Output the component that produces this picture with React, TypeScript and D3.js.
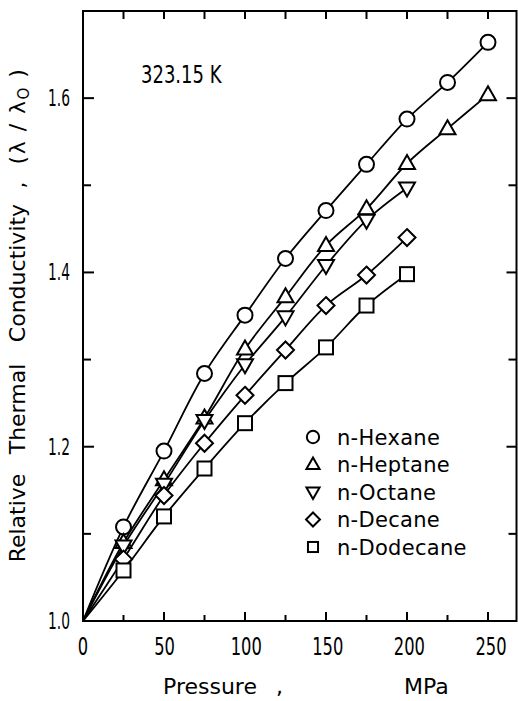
import React from "react";
import * as d3 from "d3";

const pressures = [25, 50, 75, 100, 125, 150, 175, 200, 225, 250];
const hexane = [1.108, 1.195, 1.284, 1.351, 1.416, 1.471, 1.524, 1.576, 1.618, 1.664];
const heptane = [1.09, 1.162, 1.233, 1.312, 1.372, 1.431, 1.473, 1.525, 1.565, 1.604];
const octane = [1.086, 1.157, 1.23, 1.294, 1.349, 1.408, 1.46, 1.497];
const decane = [1.071, 1.144, 1.204, 1.259, 1.311, 1.362, 1.397, 1.44];
const dodecane = [1.058, 1.12, 1.175, 1.227, 1.273, 1.314, 1.362, 1.398];

const seriesNames = ["n-Hexane", "n-Heptane", "n-Octane", "n-Decane", "n-Dodecane"];
const seriesValues = [hexane, heptane, octane, decane, dodecane];
const seriesMarkers = ["circle", "up", "down", "diamond", "square"];

const xMajorTicks = [0, 50, 100, 150, 200, 250];
const xMinorTicks = [25, 75, 125, 175, 225];
const yMajorTicks = [1.0, 1.2, 1.4, 1.6];
const yMinorTicks = [1.1, 1.3, 1.5];
const yTickLabels = ["1.0", "1.2", "1.4", "1.6"];

const FONT = "'DejaVu Sans', sans-serif";

function Marker({ type, x, y, s = 1 }: { type: string; x: number; y: number; s?: number }) {
  const common = { fill: "white", stroke: "black", strokeWidth: 2 };
  if (type === "circle") return <circle cx={x} cy={y} r={7.5 * s} {...common} />;
  if (type === "up")
    return (
      <polygon
        points={`${x},${y - 8.5 * s} ${x + 8 * s},${y + 5.5 * s} ${x - 8 * s},${y + 5.5 * s}`}
        {...common}
      />
    );
  if (type === "down")
    return (
      <polygon
        points={`${x},${y + 8.5 * s} ${x + 8 * s},${y - 5.5 * s} ${x - 8 * s},${y - 5.5 * s}`}
        {...common}
      />
    );
  if (type === "diamond")
    return (
      <polygon
        points={`${x},${y - 8.5 * s} ${x + 8.5 * s},${y} ${x},${y + 8.5 * s} ${x - 8.5 * s},${y}`}
        {...common}
      />
    );
  return <rect x={x - 7 * s} y={y - 7 * s} width={14 * s} height={14 * s} {...common} />;
}

export default function App() {
  const W = 518;
  const H = 701;
  const left = 83;
  const right = 516.5;
  const top = 11;
  const bottom = 621;

  const x = d3.scaleLinear().domain([0, 250]).range([left, 488]);
  const y = d3.scaleLinear().domain([1.0, 1.7]).range([bottom, top]);

  const line = d3
    .line<[number, number]>()
    .x((d) => x(d[0]))
    .y((d) => y(d[1]))
    .curve(d3.curveCatmullRom.alpha(0.5));

  const topTicks = [...xMajorTicks, ...xMinorTicks].filter((v) => v > 0);

  return (
    <div style={{ position: "absolute", left: 0, top: 0 }}>
      <svg width={W} height={H} style={{ display: "block", background: "white" }}>
        {/* frame */}
        <rect
          x={left}
          y={top}
          width={right - left}
          height={bottom - top}
          fill="none"
          stroke="black"
          strokeWidth={2}
        />
        {/* bottom ticks */}
        {xMajorTicks.map((v) => (
          <line key={"bM" + v} x1={x(v)} x2={x(v)} y1={bottom} y2={bottom - 9} stroke="black" strokeWidth={2} />
        ))}
        {xMinorTicks.map((v) => (
          <line key={"bm" + v} x1={x(v)} x2={x(v)} y1={bottom} y2={bottom - 6} stroke="black" strokeWidth={2} />
        ))}
        {/* top ticks */}
        {topTicks.map((v) => (
          <line key={"t" + v} x1={x(v)} x2={x(v)} y1={top} y2={top + 8} stroke="black" strokeWidth={2} />
        ))}
        {/* left / right ticks */}
        {yMajorTicks.map((v) => (
          <g key={"yM" + v}>
            <line x1={left} x2={left + 11} y1={y(v)} y2={y(v)} stroke="black" strokeWidth={2} />
            <line x1={right} x2={right - 10} y1={y(v)} y2={y(v)} stroke="black" strokeWidth={2} />
          </g>
        ))}
        {yMinorTicks.map((v) => (
          <g key={"ym" + v}>
            <line x1={left} x2={left + 8} y1={y(v)} y2={y(v)} stroke="black" strokeWidth={2} />
            <line x1={right} x2={right - 8} y1={y(v)} y2={y(v)} stroke="black" strokeWidth={2} />
          </g>
        ))}
        {/* x tick labels */}
        {xMajorTicks.map((v, i) => (
          <text
            key={"xl" + v}
            transform={`translate(${x(v) + i * 0.6},655) scale(0.68,1)`}
            textAnchor="middle"
            fontFamily={FONT}
            fontSize={24}
          >
            {String(v)}
          </text>
        ))}
        {/* y tick labels */}
        {yMajorTicks.map((v, i) => (
          <text
            key={"yl" + v}
            transform={`translate(70,${y(v) + 8}) scale(0.6,1)`}
            textAnchor="end"
            fontFamily={FONT}
            fontSize={23}
          >
            {yTickLabels[i]}
          </text>
        ))}
        {/* lines */}
        {seriesValues.map((vals, i) => {
          const pts: [number, number][] = [[0, 1.0], ...vals.map((v, j) => [pressures[j], v] as [number, number])];
          return <path key={"l" + i} d={line(pts) || ""} fill="none" stroke="black" strokeWidth={1.8} />;
        })}
        {/* markers */}
        {seriesValues.map((vals, i) =>
          vals.map((v, j) => (
            <Marker key={"m" + i + "-" + j} type={seriesMarkers[i]} x={x(pressures[j])} y={y(v)} />
          ))
        )}
        {/* temperature label */}
        <text transform="translate(141,83) scale(0.75,1)" fontFamily={FONT} fontSize={24}>
          323.15 K
        </text>
        {/* legend */}
        {seriesNames.map((n, i) => {
          const ly = 437 + i * 27.5;
          return (
            <g key={"lg" + i}>
              <Marker type={seriesMarkers[i]} x={313} y={ly} s={seriesMarkers[i] === "square" ? 0.72 : 0.82} />
              <text x={337} y={ly + 7.5} fontFamily={FONT} fontSize={21} letterSpacing={0.3}>
                {n}
              </text>
            </g>
          );
        })}
        {/* x title */}
        <text x={163} y={694} fontFamily={FONT} fontSize={22}>
          Pressure
        </text>
        <text x={276} y={694} fontFamily={FONT} fontSize={22}>
          ,
        </text>
        <text x={404} y={694} fontFamily={FONT} fontSize={22}>
          MPa
        </text>
        {/* y title */}
        <g fontFamily={FONT} fontSize={22} textAnchor="middle">
          <text transform={`translate(25,518) rotate(-90)`}>Relative</text>
          <text transform={`translate(25,409) rotate(-90)`}>Thermal</text>
          <text transform={`translate(25,273) rotate(-90)`}>Conductivity</text>
          <text transform={`translate(25,185) rotate(-90)`}>,</text>
          <text transform={`translate(25,116) rotate(-90)`} letterSpacing={1.5}>
            (λ / λ<tspan fontSize={15} dy={4}>O</tspan>
            <tspan dy={-4}> )</tspan>
          </text>
        </g>
      </svg>
    </div>
  );
}
